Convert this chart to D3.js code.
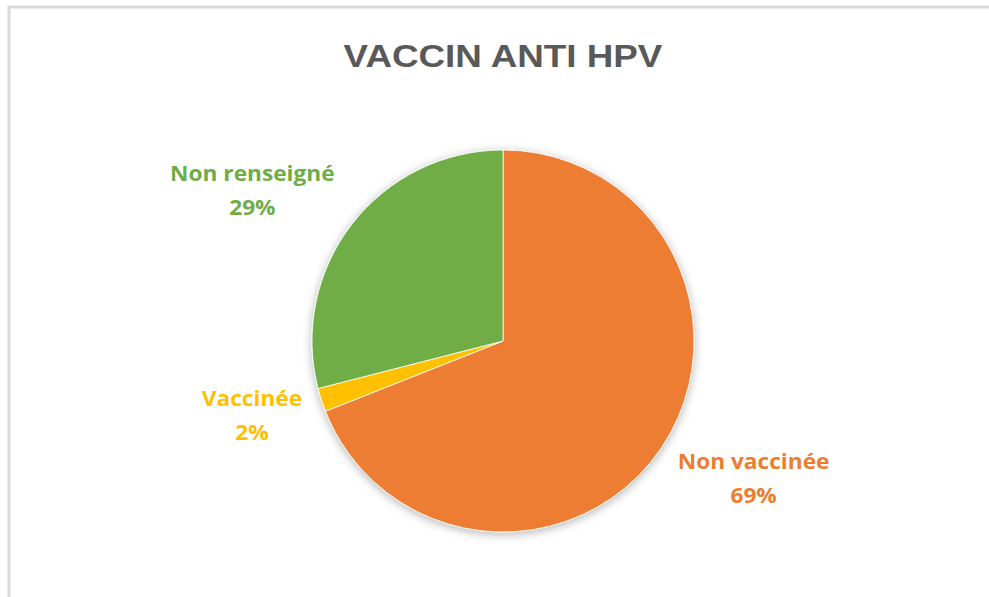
<!DOCTYPE html>
<html>
<head>
<meta charset="utf-8">
<script src="https://cdn.jsdelivr.net/npm/d3@7"></script>
<style>
  body { margin: 0; background: #fff; }
  svg { display: block; }
</style>
</head>
<body>
<svg id="pieChart"></svg>
<script>
const categories = ["Non vaccinée", "Vaccinée", "Non renseigné"]
const values = [69, 2, 29]
const colors = ["#ED7D31", "#FFC000", "#70AD47"]
const percentLabels = ["69%", "2%", "29%"]

const chart = {
    width: 989,
    height: 597
}
const pieCenter = { x: 503, y: 341 }
const radius = 191

const svg = d3.select("#pieChart")
    .attr("width", chart.width)
    .attr("height", chart.height)

// chart frame (only top and left edges visible in the crop)
svg.append("rect")
    .attr("x", 9)
    .attr("y", 7)
    .attr("width", chart.width + 20)
    .attr("height", chart.height + 20)
    .attr("fill", "#fff")
    .attr("stroke", "#d9d9d9")
    .attr("stroke-width", 3)

const defs = svg.append("defs")
const shadow = defs.append("filter")
    .attr("id", "pieShadow")
    .attr("x", "-20%").attr("y", "-20%")
    .attr("width", "140%").attr("height", "140%")
shadow.append("feDropShadow")
    .attr("dx", 0)
    .attr("dy", 2)
    .attr("stdDeviation", 5)
    .attr("flood-color", "#000")
    .attr("flood-opacity", 0.3)

// title, slightly stretched horizontally like the reference
svg.append("text")
    .attr("transform", "translate(503,67) scale(1.15,1)")
    .attr("text-anchor", "middle")
    .attr("font-family", "'Liberation Sans', Arial, sans-serif")
    .attr("font-weight", "bold")
    .attr("font-size", 32)
    .attr("fill", "#595959")
    .text("VACCIN ANTI HPV")

const pie = d3.pie()
    .sort(null)
    .value((d) => d.value)

const arc = d3.arc()
    .innerRadius(0)
    .outerRadius(radius)

const data = categories.map((c, i) => ({ name: c, value: values[i], color: colors[i], pct: percentLabels[i] }))
const arcs = pie(data)

const g = svg.append("g")
    .attr("transform", "translate(" + pieCenter.x + "," + pieCenter.y + ")")

g.append("g")
    .attr("filter", "url(#pieShadow)")
    .selectAll("path")
    .data(arcs)
    .enter()
    .append("path")
    .attr("d", arc)
    .attr("fill", (d) => d.data.color)
    .attr("stroke", "#fff")
    .attr("stroke-width", 0.8)

// label positions outside the pie, following the slice mid-angle
const labelRadius = {
    "Non vaccinée": 286,
    "Vaccinée": 262,
    "Non renseigné": 292
}
const labelAngleShift = {
    "Non vaccinée": -0.094,
    "Vaccinée": 0.024,
    "Non renseigné": -0.121
}

const labels = g.selectAll(".sliceLabel")
    .data(arcs)
    .enter()
    .append("text")
    .attr("class", "sliceLabel")
    .attr("text-anchor", "middle")
    .attr("font-family", "'Open Sans', Lato, sans-serif")
    .attr("font-weight", "bold")
    .attr("font-size", 21)
    .attr("fill", (d) => d.data.color)
    .attr("transform", (d) => {
        const a = (d.startAngle + d.endAngle) / 2 + labelAngleShift[d.data.name]
        const r = labelRadius[d.data.name]
        return "translate(" + (Math.sin(a) * r) + "," + (-Math.cos(a) * r) + ") scale(1.08,1)"
    })

labels.append("tspan")
    .attr("x", 0)
    .attr("dy", -10)
    .text((d) => d.data.name)

labels.append("tspan")
    .attr("x", 0)
    .attr("dy", 34)
    .text((d) => d.data.pct)
</script>
</body>
</html>
